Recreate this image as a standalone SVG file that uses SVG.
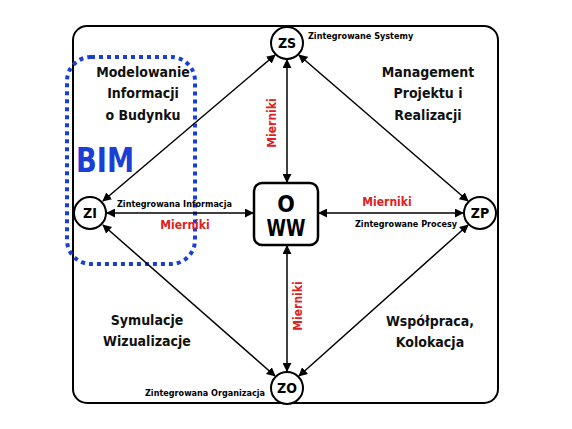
<svg xmlns="http://www.w3.org/2000/svg" width="572" height="429" viewBox="0 0 572 429">
<style>
text{font-family:"Liberation Sans Narrow","DejaVu Sans Condensed","Liberation Sans",sans-serif;font-weight:bold;font-stretch:condensed;}
.node{fill:#fff;stroke:#000;stroke-width:2}
.nl{font-size:14px;text-anchor:middle;fill:#000}
.lbl{font-size:9px;fill:#000}
.area{font-size:14px;text-anchor:middle;fill:#111}
.red{font-size:12px;fill:#e02020;text-anchor:middle}
.conn line{stroke:#000;stroke-width:1.5;marker-start:url(#a);marker-end:url(#a)}
</style>
<defs>
<marker id="a" viewBox="0 0 10 10" refX="9" refY="5" markerWidth="6" markerHeight="6" orient="auto-start-reverse" markerUnits="strokeWidth">
<path d="M0,0 L10,5 L0,10 z" fill="#000"/>
</marker>
</defs>
<rect width="572" height="429" fill="#fff"/>
<rect id="frame" x="73" y="26" width="425" height="377" rx="14" fill="none" stroke="#000" stroke-width="2"/>
<rect id="bim-area" x="67" y="57" width="128" height="207" rx="24" fill="none" stroke="#1a3fd6" stroke-width="4" stroke-dasharray="4 4"/>
<g class="conn">
<line x1="275" y1="55" x2="103" y2="201"/>
<line x1="299" y1="55" x2="468" y2="201"/>
<line x1="103" y1="225" x2="275" y2="376"/>
<line x1="468" y1="225" x2="299" y2="376"/>
<line x1="287" y1="60" x2="287" y2="182"/>
<line x1="287" y1="246" x2="287" y2="371"/>
<line x1="107" y1="213" x2="253" y2="213"/>
<line x1="319" y1="213" x2="463" y2="213"/>
</g>
<g id="ZS"><circle class="node" cx="287" cy="43" r="16"/><text class="nl" x="287" y="48">ZS</text></g>
<g id="ZI"><circle class="node" cx="90" cy="213" r="16"/><text class="nl" x="90" y="218">ZI</text></g>
<g id="ZP"><circle class="node" cx="480" cy="213" r="16"/><text class="nl" x="480" y="218">ZP</text></g>
<g id="ZO"><circle class="node" cx="287" cy="388" r="16"/><text class="nl" x="287" y="393">ZO</text></g>
<g id="OWW"><rect x="254" y="183" width="64" height="62" rx="8" fill="#fff" stroke="#000" stroke-width="2.5"/><text x="286" y="212" font-size="23" text-anchor="middle">O</text><text x="286" y="236" font-size="23" text-anchor="middle" textLength="39" lengthAdjust="spacingAndGlyphs">WW</text></g>
<text class="lbl" x="308" y="39">Zintegrowane Systemy</text>
<text class="lbl" x="117" y="207">Zintegrowana Informacja</text>
<text class="lbl" x="355" y="227">Zintegrowane Procesy</text>
<text class="lbl" x="265" y="396" text-anchor="end">Zintegrowana Organizacja</text>
<text class="red" x="185" y="229">Mierniki</text>
<text class="red" x="387" y="206">Mierniki</text>
<text class="red" transform="translate(276,123) rotate(-90)">Mierniki</text>
<text class="red" transform="translate(302,306) rotate(-90)">Mierniki</text>
<text class="area" x="143" y="77">Modelowanie</text>
<text class="area" x="143" y="98">Informacji</text>
<text class="area" x="143" y="120">o Budynku</text>
<text class="area" x="428" y="77">Management</text>
<text class="area" x="428" y="98">Projektu i</text>
<text class="area" x="428" y="120">Realizacji</text>
<text class="area" x="147" y="325">Symulacje</text>
<text class="area" x="147" y="346">Wizualizacje</text>
<text class="area" x="430" y="326">Współpraca,</text>
<text class="area" x="430" y="347">Kolokacja</text>
<text x="76" y="172" font-size="34" fill="#1a3fd6" textLength="58" lengthAdjust="spacingAndGlyphs">BIM</text>
</svg>
